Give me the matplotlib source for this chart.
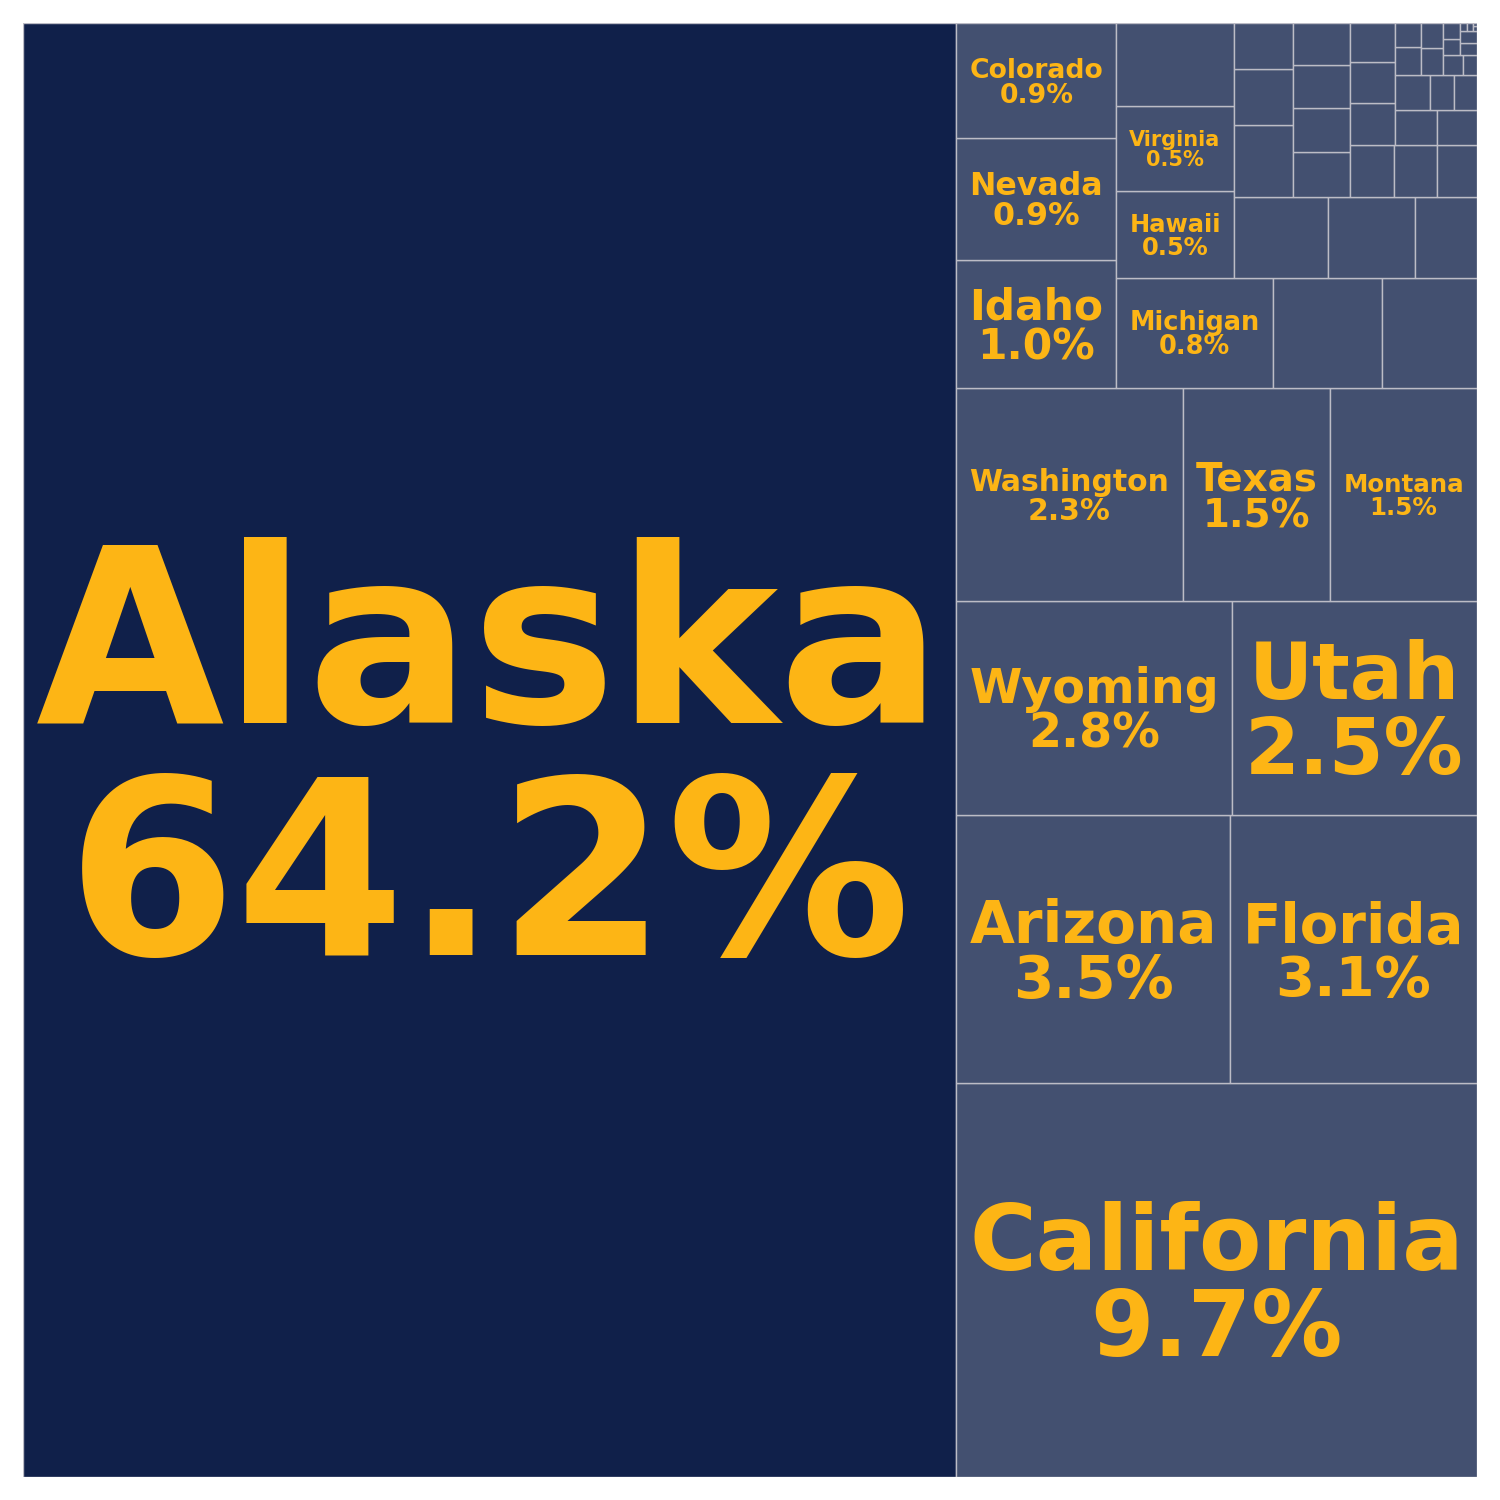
import matplotlib
matplotlib.use("Agg")
import matplotlib.pyplot as plt
from matplotlib.patches import Rectangle

# ---- data: share of total area (%) by state ----
states = [
    "Alaska", "California", "Arizona", "Florida", "Wyoming", "Utah",
    "Washington", "Texas", "Montana", "Idaho", "Nevada", "Colorado",
    "Michigan", "New Mexico", "North Carolina", "Hawaii", "Virginia",
    "Tennessee", "Minnesota", "South Dakota", "Oregon", "Georgia",
    "New York", "Arkansas", "Kentucky", "Pennsylvania", "Maryland",
    "Mississippi", "Wisconsin", "Louisiana", "Nebraska", "North Dakota",
    "Massachusetts", "New Jersey", "Oklahoma", "Indiana", "West Virginia",
    "Alabama", "Missouri", "South Carolina", "Ohio", "Kansas", "Maine",
    "Iowa", "Illinois", "Vermont", "Connecticut", "New Hampshire",
    "District of Columbia", "Rhode Island", "Delaware", "Guam",
    "American Samoa",
]
share_pct = [
    64.2, 9.7, 3.47, 3.13, 2.79, 2.48,
    2.28, 1.49, 1.48, 0.97, 0.92, 0.87,
    0.815, 0.569, 0.493, 0.484, 0.468,
    0.463, 0.361, 0.331, 0.236, 0.202,
    0.156, 0.128, 0.121, 0.119, 0.117,
    0.113, 0.110, 0.107, 0.099, 0.090,
    0.0886, 0.085, 0.068, 0.065, 0.058,
    0.0405, 0.038, 0.034, 0.0288, 0.0274, 0.0264,
    0.0186, 0.0133, 0.0128, 0.0123, 0.0099,
    0.0096, 0.003, 0.0022, 0.0012,
    0.0006,
]

# ---- styles ----
DARK = "#10204A"
MID = "#435070"
EDGE = "#BCBCC6"
GOLD = "#FDB515"
FONT = "DejaVu Sans"
PAD_PX = 13
MIN_PT = 13.0
CAP = 0.73      # cap height / em
LS = 0.95       # baseline-to-baseline / em


# ---- squarified treemap (origin bottom-left) ----
def layoutrow(sizes, x, y, dx, dy):
    width = sum(sizes) / dy
    rects = []
    for s in sizes:
        rects.append({"x": x, "y": y, "dx": width, "dy": s / width})
        y += s / width
    return rects


def layoutcol(sizes, x, y, dx, dy):
    height = sum(sizes) / dx
    rects = []
    for s in sizes:
        rects.append({"x": x, "y": y, "dx": s / height, "dy": height})
        x += s / height
    return rects


def layout(sizes, x, y, dx, dy):
    return layoutrow(sizes, x, y, dx, dy) if dx >= dy else layoutcol(sizes, x, y, dx, dy)


def leftover(sizes, x, y, dx, dy):
    if dx >= dy:
        w = sum(sizes) / dy
        return x + w, y, dx - w, dy
    h = sum(sizes) / dx
    return x, y + h, dx, dy - h


def worst(sizes, x, y, dx, dy):
    return max(max(r["dx"] / r["dy"], r["dy"] / r["dx"]) for r in layout(sizes, x, y, dx, dy))


def squarify(sizes, x, y, dx, dy):
    if not sizes:
        return []
    if len(sizes) == 1:
        return layout(sizes, x, y, dx, dy)
    i = 1
    while i < len(sizes) and worst(sizes[:i], x, y, dx, dy) >= worst(sizes[:i + 1], x, y, dx, dy):
        i += 1
    cur, rest = sizes[:i], sizes[i:]
    lx, ly, ldx, ldy = leftover(cur, x, y, dx, dy)
    return layout(cur, x, y, dx, dy) + squarify(rest, lx, ly, ldx, ldy)


W = H = 100.0
total = sum(share_pct)
sizes = [v * W * H / total for v in share_pct]
rects = squarify(sizes, 0.0, 0.0, W, H)

fig = plt.figure(figsize=(15, 15), dpi=100)
fig.patch.set_facecolor("white")
ax = fig.add_axes([23 / 1500, 23 / 1500, 1454 / 1500, 1454 / 1500])
ax.set_xlim(0, W)
ax.set_ylim(0, H)
ax.axis("off")

ppu = 1454 / W  # pixels per data unit
imax = share_pct.index(max(share_pct))

for i, r in enumerate(rects):
    ax.add_patch(Rectangle((r["x"], r["y"]), r["dx"], r["dy"],
                           facecolor=DARK if i == imax else MID,
                           edgecolor=EDGE, linewidth=1.0))

renderer = fig.canvas.get_renderer()
for i, (name, v, r) in enumerate(zip(states, share_pct, rects)):
    pct = f"{v / total * 100:.1f}%"
    t1 = ax.text(0, 0, name, fontsize=100, fontweight="bold", family=FONT,
                 color=GOLD, ha="center", va="baseline")
    t2 = ax.text(0, 0, pct, fontsize=100, fontweight="bold", family=FONT,
                 color=GOLD, ha="center", va="baseline")
    w1 = t1.get_window_extent(renderer).width
    w2 = t2.get_window_extent(renderer).width
    wpx = r["dx"] * ppu - 2 * PAD_PX
    hpx = r["dy"] * ppu - 2 * PAD_PX
    if wpx <= 0 or hpx <= 0:
        t1.remove(); t2.remove()
        continue
    fs_pt = 100 * wpx / max(w1, w2)
    fs_px = fs_pt / 72 * 100
    if (CAP + LS) * fs_px > hpx:
        fs_px = hpx / (CAP + LS)
        fs_pt = fs_px * 72 / 100
    if fs_pt < MIN_PT:
        t1.remove(); t2.remove()
        continue
    c = CAP * fs_px / ppu
    s = LS * fs_px / ppu
    xc = r["x"] + r["dx"] / 2
    yc = r["y"] + r["dy"] / 2
    yname = yc + (s - c) / 2
    t1.set_fontsize(fs_pt)
    t2.set_fontsize(fs_pt)
    t1.set_position((xc, yname))
    t2.set_position((xc, yname - s))

fig.savefig("out.png", dpi=100, facecolor="white")
